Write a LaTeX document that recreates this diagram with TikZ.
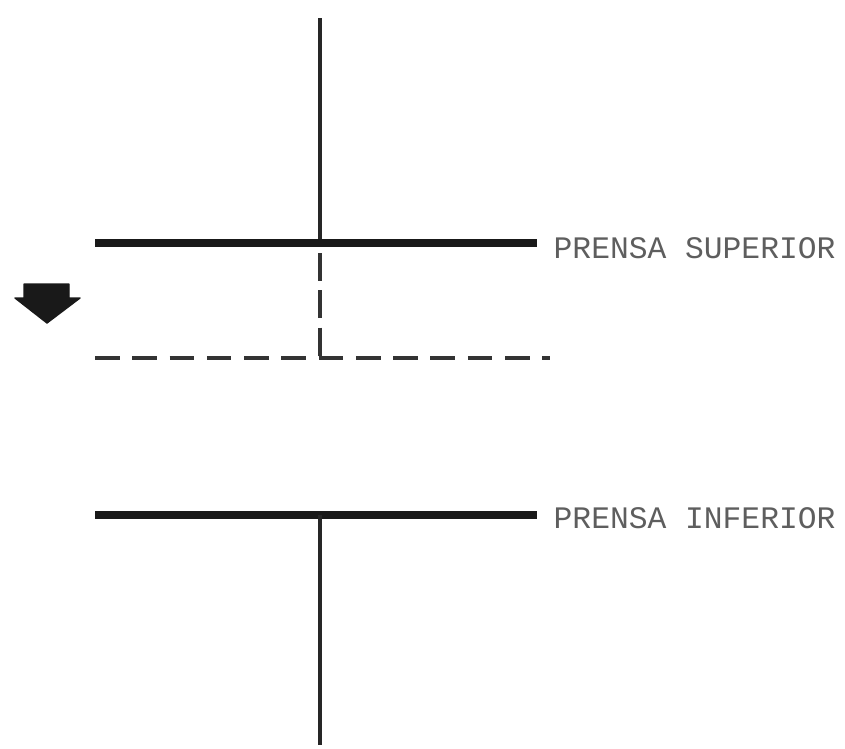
\documentclass[tikz,border=0pt]{standalone}
\usepackage{fontspec}
\setmonofont{Liberation Mono}
\usepackage{tikz}
\usetikzlibrary{positioning}
\definecolor{inkgray}{HTML}{5E5E5E}
\tikzset{
  axisline/.style={line width=1.1pt,black!85},
  platebar/.style={line width=2.1pt,black!90,line cap=rect},
  ghostline/.style={line width=1.1pt,black!80,dash pattern=on 7pt off 3.6pt},
  ghostaxis/.style={line width=1.1pt,black!80,dash pattern=on 8pt off 2.6pt},
  presslabel/.style={anchor=west,inner sep=0pt,text=inkgray,font=\ttfamily\fontsize{8.9pt}{10pt}\selectfont},
  blockarrow/.style={fill=black!90,draw=black!90,line join=round},
}

\begin{document}
\begin{tikzpicture}[x=0.01cm,y=-0.01cm]
  \useasboundingbox (0,0) rectangle (845,748);
  % upper press
  \coordinate (upTop) at (320,18);
  \coordinate (upMid) at (320,243);
  \coordinate (upL) at (99,243);
  \coordinate (upR) at (533,243);
  \node[presslabel] (lblSup) at (553,248) {PRENSA SUPERIOR};
  % displaced position
  \coordinate (dnMid) at (320,358);
  \coordinate (dnL) at (95,358);
  \coordinate (dnR) at (550,358);
  % lower press
  \coordinate (loMid) at (320,515);
  \coordinate (loL) at (99,515);
  \coordinate (loR) at (533,515);
  \coordinate (loBot) at (320,745);
  \node[presslabel] (lblInf) at (553,518) {PRENSA INFERIOR};
  \draw[axisline] (upTop) -- (upMid);
  \draw[platebar] (upL) -- (upR);
  \draw[ghostaxis] (upMid) ++(0,10) -- (dnMid);
  \draw[ghostline] (dnL) -- (dnR);
  \draw[platebar] (loL) -- (loR);
  \draw[axisline] (loMid) -- (loBot);
  % motion arrow
  \draw[blockarrow] (24,284) -- (69,284) -- (69,298) -- (80,298)
    -- (47,323) -- (15,298) -- (24,298) -- cycle;
\end{tikzpicture}
\end{document}
